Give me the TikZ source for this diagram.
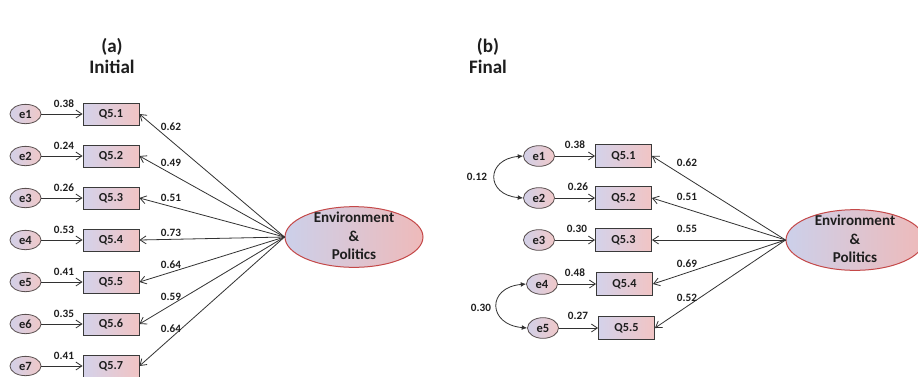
\documentclass[tikz,border=0pt]{standalone}
\usepackage{fontspec}
\setmainfont{Carlito}
\usetikzlibrary{arrows.meta,shapes.geometric}

\definecolor{boxL}{RGB}{212,210,234}
\definecolor{boxR}{RGB}{241,196,196}
\definecolor{boxLine}{RGB}{58,58,58}
\definecolor{errL}{RGB}{210,208,232}
\definecolor{errR}{RGB}{240,200,200}
\definecolor{errLine}{RGB}{90,80,80}
\definecolor{latL}{RGB}{204,208,234}
\definecolor{latR}{RGB}{238,186,186}
\definecolor{latLine}{RGB}{196,72,72}
\definecolor{wire}{RGB}{50,50,50}
\definecolor{ink}{RGB}{30,30,30}

\newcommand{\latname}{\smash{\raisebox{-3pt}{\begin{tabular}{@{}c@{}}Environment\\\&\\Politics\end{tabular}}}}

\begin{document}
\begin{tikzpicture}[x=0.75pt,y=-0.75pt,
  obs/.style={draw=boxLine, line width=0.65pt, left color=boxL, right color=boxR,
    minimum width=42pt, minimum height=16.5pt, inner sep=0pt, text=ink,
    font=\fontsize{9.2}{11}\selectfont\bfseries},
  err/.style={ellipse, draw=errLine, line width=0.6pt, left color=errL, right color=errR,
    minimum width=23.25pt, minimum height=14.5pt, inner sep=0pt, text=ink,
    font=\fontsize{9.4}{11}\selectfont\bfseries},
  lat/.style={ellipse, draw=latLine, line width=0.75pt, left color=latL, right color=latR,
    minimum width=103.5pt, minimum height=45.5pt, inner sep=0pt, text=ink,
    font=\fontsize{11.3}{13.9}\selectfont\bfseries},
  reg/.style={draw=wire, line width=0.6pt, -{Straight Barb[length=4.5pt,width=6pt]}},
  cov/.style={draw=wire, line width=0.6pt,
    {Latex[length=4pt,width=3.6pt]}-{Latex[length=4pt,width=3.6pt]}},
  wlbl/.style={inner sep=0pt, text=ink, font=\fontsize{8.4}{10}\selectfont\bfseries},
  ttl/.style={align=center, text=ink, font=\fontsize{14.3}{15.8}\selectfont\bfseries}]

\clip (0,0) rectangle (918,376);
\fill[white] (0,0) rectangle (918,376);

% ---------- panel titles ----------
\node[ttl] (ta) at (112,56) {(a)\\Initial};
\node[ttl] (tb) at (488,56) {(b)\\Final};

% ---------- (a) initial model ----------
\node[lat] (envA) at (354,237) {\latname};

\foreach \k/\w/\lam/\ly in {1/0.38/0.62/127, 2/0.24/0.49/163, 3/0.26/0.51/198,
    4/0.53/0.73/233, 5/0.41/0.64/265, 6/0.35/0.59/297, 7/0.41/0.64/329}{
  \pgfmathsetmacro{\yy}{72+42*\k}
  \node[err] (ea\k) at (25.5,\yy) {e\k};
  \node[obs] (qa\k) at (111,\yy) {Q5.\k};
  \draw[reg] (ea\k) -- (qa\k);
  \node[wlbl] (wa\k) at (64,\yy-10) {\w};
  \draw[reg] (envA.west) -- (qa\k.east);
  \node[wlbl] (la\k) at (171,\ly) {\lam};
}

% ---------- (b) final model ----------
\node[lat] (envB) at (855,240) {\latname};

\foreach \k/\ex/\qx/\yy/\w/\wx/\wy/\lam/\ly in {
    1/539/623.5/156/0.38/575/145/0.62/163,
    2/539/623.5/198/0.26/578/187/0.51/197,
    3/539/623.5/240/0.30/577/229/0.55/229,
    4/542/624.5/284/0.48/575/273/0.69/264,
    5/543/626.5/328/0.27/578/316/0.52/298}{
  \node[err, minimum height=15.5pt] (eb\k) at (\ex,\yy) {e\k};
  \node[obs, minimum height=17.5pt] (qb\k) at (\qx,\yy) {Q5.\k};
  \draw[reg] (eb\k) -- (qb\k);
  \node[wlbl] (wb\k) at (\wx,\wy) {\w};
  \draw[reg] (envB.west) -- (qb\k.east);
  \node[wlbl] (lb\k) at (687,\ly) {\lam};
}

% correlated residuals
\draw[cov] (eb1.west) to[out=185,in=175,looseness=2.3] (eb2.west);
\node[wlbl] (c12) at (477,177) {0.12};
\draw[cov] (eb4.west) to[out=185,in=175,looseness=2.3] (eb5.west);
\node[wlbl] (c45) at (481,308) {0.30};

\end{tikzpicture}
\end{document}
